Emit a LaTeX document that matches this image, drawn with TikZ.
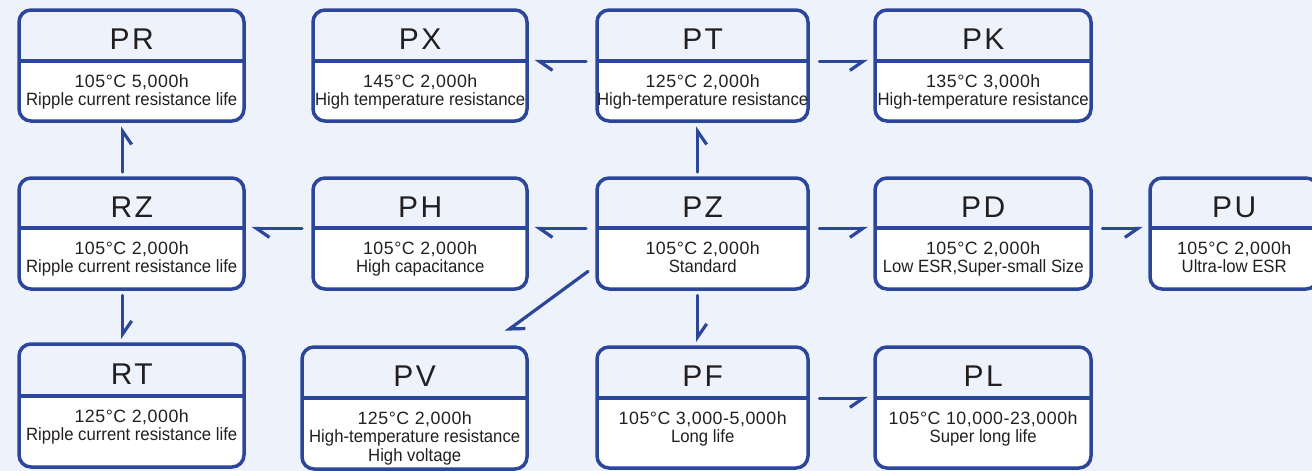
\documentclass[tikz,border=0pt]{standalone}
\usepackage{fontspec}
\setmainfont{Liberation Sans}
\newfontfamily\titlefont[LetterSpace=8]{Liberation Sans}
\newfontfamily\bodyfont[FakeStretch=0.94]{Liberation Sans}
\newfontfamily\tempfont[LetterSpace=3]{Liberation Sans}
\usetikzlibrary{arrows.meta}
\definecolor{bgblue}{HTML}{EEF3FB}
\definecolor{frameblue}{HTML}{2C4799}
\definecolor{inkgray}{HTML}{231F20}

\begin{document}
\begin{tikzpicture}[x=1pt, y=-1pt,
	frame/.style={draw=frameblue, line width=3.5pt, rounded corners=12pt},
	head/.style={inner sep=0pt, text=inkgray, font=\titlefont\fontsize{30}{32}\selectfont, text height=28pt, text depth=0pt},
	body/.style={inner sep=0pt},
	spec/.style={anchor=north, yshift=-13pt, inner sep=0pt, align=center, text=inkgray, font=\bodyfont\fontsize{17.8}{18.6}\selectfont},
	flow/.style={draw=frameblue, line width=3.2pt, line cap=round, -{Straight Barb[harpoon, length=13pt, width=18pt]}},
	flowr/.style={flow, -{Straight Barb[harpoon, swap, length=13pt, width=18pt]}},
	hflow/.style={shorten <=11pt, shorten >=7pt},
	vflow/.style={shorten <=6pt, shorten >=5pt}]

	\fill[bgblue] (0,0) rectangle (1312,471);
	\useasboundingbox (0,0) rectangle (1312,471);

	% name, left, right, top, divider, bottom, title, text
	\def\capbox#1#2#3#4#5#6#7#8{%
		\pgfmathsetmacro\bw{#3-#2}
		\fill[white, rounded corners=12pt] (#2,#5) -- (#2,#6) -- (#3,#6) -- (#3,#5);
		\draw[frame] (#2,#4) rectangle (#3,#6);
		\draw[frame] (#2,#5) -- (#3,#5);
		\node[head, minimum width=\bw pt, minimum height={(#5-#4)*1pt}, anchor=north west] (#1) at (#2,#4) {#7};
		\node[body, minimum width=\bw pt, minimum height={(#6-#5)*1pt}, anchor=north west] (#1-b) at (#2,#5) {};
		\node[spec] (#1-t) at (#1-b.north) {#8};
	}

	\capbox{PR}{19}{244}{10}{61}{121}{PR}{{\tempfont 105°C 5,000h}\\Ripple current resistance life}
	\capbox{PX}{313}{527}{10}{61}{121}{PX}{{\tempfont 145°C 2,000h}\\High temperature resistance}
	\capbox{PT}{597}{808}{10}{61}{121}{PT}{{\tempfont 125°C 2,000h}\\High-temperature resistance}
	\capbox{PK}{875}{1091}{10}{61}{121}{PK}{{\tempfont 135°C 3,000h}\\High-temperature resistance}

	\capbox{RZ}{19}{244}{178}{228}{289}{RZ}{{\tempfont 105°C 2,000h}\\Ripple current resistance life}
	\capbox{PH}{313}{527}{178}{228}{289}{PH}{{\tempfont 105°C 2,000h}\\High capacitance}
	\capbox{PZ}{597}{808}{178}{228}{289}{PZ}{{\tempfont 105°C 2,000h}\\Standard}
	\capbox{PD}{875}{1091}{178}{228}{289}{PD}{{\tempfont 105°C 2,000h}\\Low ESR,Super-small Size}
	\capbox{PU}{1150}{1318}{178}{228}{289}{PU}{{\tempfont 105°C 2,000h}\\Ultra-low ESR}

	\capbox{RT}{19}{244}{344}{396}{467}{RT}{{\tempfont 125°C 2,000h}\\Ripple current resistance life}
	\capbox{PV}{302}{527}{347}{398}{469}{PV}{{\tempfont 125°C 2,000h}\\High-temperature resistance\\High voltage}
	\capbox{PF}{597}{808}{347}{398}{468}{PF}{{\tempfont 105°C 3,000-5,000h}\\Long life}
	\capbox{PL}{875}{1091}{347}{398}{468}{PL}{{\tempfont 105°C 10,000-23,000h}\\Super long life}

	% connectors
	\draw[flowr, vflow] ([xshift=-9pt]RZ.north) -- ([xshift=-9pt]PR-b.south);
	\draw[flow, vflow] ([xshift=-9pt]RZ-b.south) -- ([xshift=-9pt]RT.north);
	\draw[flow, hflow] (PH.south west) -- (RZ.south east);
	\draw[flow, hflow] (PZ.south west) -- (PH.south east);
	\draw[flowr, vflow] ([xshift=-5pt]PZ.north) -- ([xshift=-5pt]PT-b.south);
	\draw[flow, hflow] (PT.south west) -- (PX.south east);
	\draw[flowr, hflow] (PT.south east) -- (PK.south west);
	\draw[flowr, hflow] (PZ.south east) -- (PD.south west);
	\draw[flowr, hflow] (PD.south east) -- (PU.south west);
	\draw[flow, vflow] ([xshift=-5pt]PZ-b.south) -- ([xshift=-5pt]PF.north);
	\draw[flowr, hflow] (PF.south east) -- (PL.south west);
	\draw[flow] ([shift={(-9pt,18pt)}]PZ-b.south west) -- ([shift={(-22pt,15pt)}]PV.north east);
\end{tikzpicture}
\end{document}
